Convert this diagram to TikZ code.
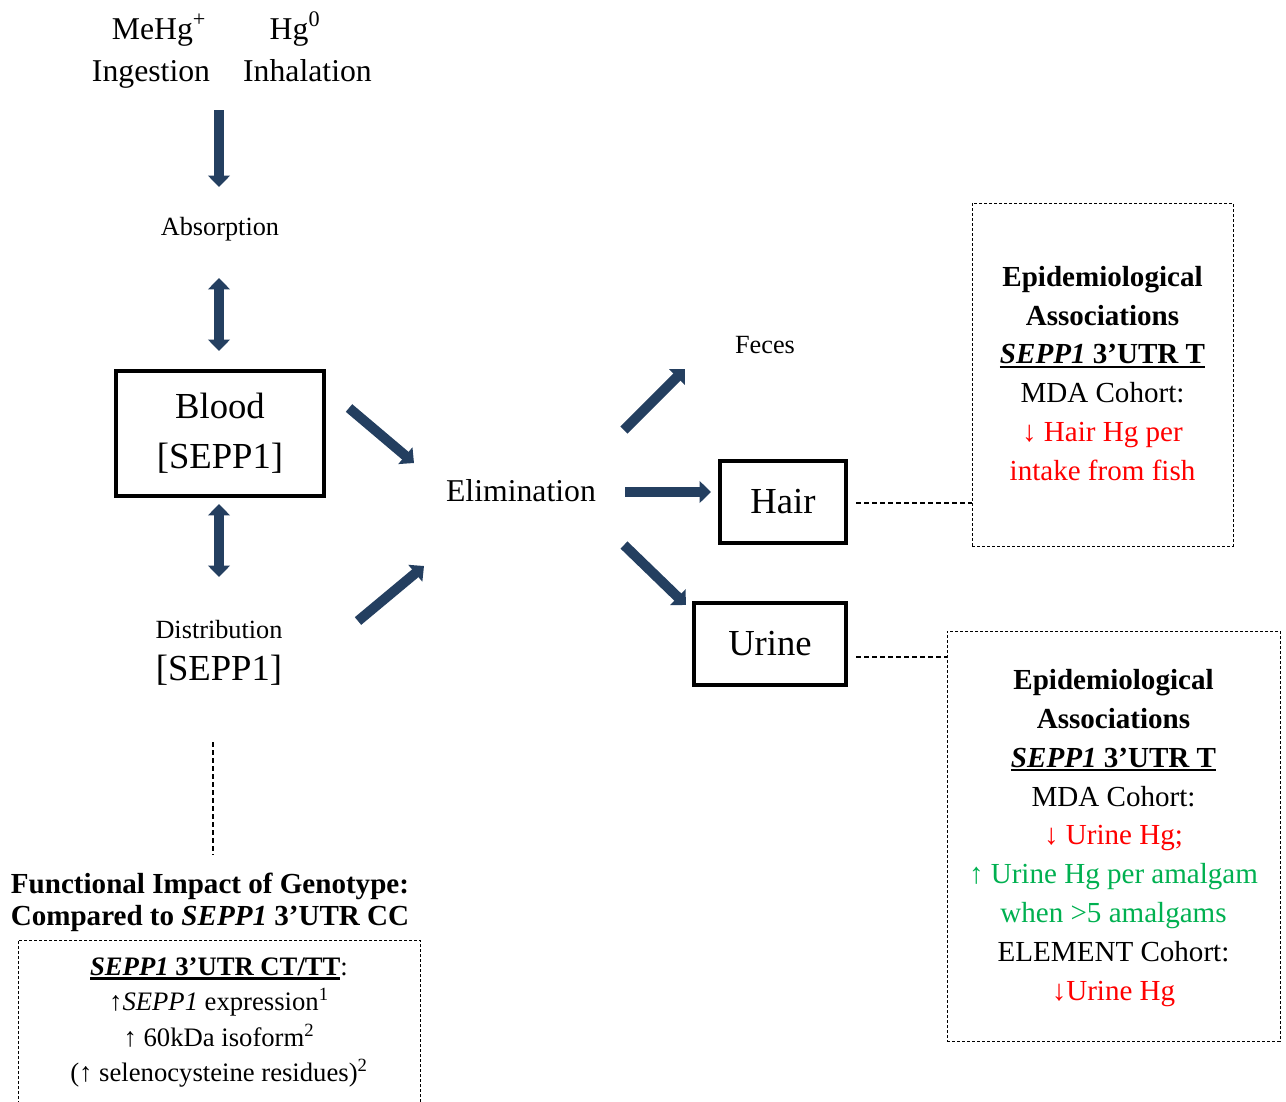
\documentclass[tikz,border=0pt]{standalone}
\usepackage{fontspec}
\setmainfont{Liberation Serif}
\usetikzlibrary{arrows.meta}
\definecolor{navy}{HTML}{243F60}
\definecolor{hgred}{HTML}{FF0000}
\definecolor{hggreen}{HTML}{00B050}
\newcommand\fsIn{\fontsize{23.8pt}{28pt}\selectfont}
\newcommand\fsSm{\fontsize{19.7pt}{24pt}\selectfont}
\newcommand\fsBig{\fontsize{27.5pt}{37.5pt}\selectfont}
\newcommand\fsEpi{\fontsize{21.8pt}{29.2pt}\selectfont}
\newcommand\fsFun{\fontsize{21.8pt}{24pt}\selectfont}
\newcommand\fsBot{\fontsize{20pt}{26.5pt}\selectfont}
\newcommand\myul[1]{\setbox0\hbox{#1}\rlap{\rule[-3pt]{\wd0}{1.6pt}}\box0}
\tikzset{
  txt/.style={inner sep=0pt, align=center},
  solidbox/.style={draw=black, line width=3pt, inner sep=0pt, align=center},
  dashbox/.style={draw=black, line width=0.75pt, dash pattern=on 2.25pt off 1.5pt, inner sep=0pt, align=center},
  dashlink/.style={draw=black, line width=0.9pt, dash pattern=on 3.75pt off 2.25pt},
  fatarrow/.style={draw=navy, line width=7.5pt, -{Triangle[width=16pt,length=8.5pt]}},
  fatdouble/.style={draw=navy, line width=7.5pt, {Triangle[width=16pt,length=8.5pt]}-{Triangle[width=16pt,length=8.5pt]}},
}
\begin{document}
\begin{tikzpicture}[x=0.75pt,y=-0.75pt]
\useasboundingbox (0,0) rectangle (1286,1101);

% top labels
\node[txt, anchor=base, font=\fsIn] (mehg) at (159,39) {MeHg\textsuperscript{+}};
\node[txt, anchor=base, font=\fsIn] (hgz) at (295,39) {Hg\textsuperscript{0}};
\node[txt, anchor=base, font=\fsIn] (ingest) at (151,81) {Ingestion};
\node[txt, anchor=base, font=\fsIn] (inhal) at (307.5,81) {Inhalation};

\node[txt, font=\fsSm] (absorp) at (220,229.5) {Absorption};

\node[solidbox, font=\fsBig, minimum width=156pt, minimum height=93.75pt] (blood) at (220,433.5)
  {Blood\\{[SEPP1]}};

\node[txt, font=\fsSm] (distr) at (219,630) {Distribution};
\node[txt, font=\fsBig] (distrsepp) at (219,670) {[SEPP1]};

\node[txt, font=\fsIn] (elim) at (521,491) {Elimination};
\node[txt, font=\fsSm] (feces) at (765,345) {Feces};

\node[solidbox, font=\fsBig, minimum width=94.5pt, minimum height=61.5pt] (hair) at (783,502) {Hair};
\node[solidbox, font=\fsBig, minimum width=114pt, minimum height=61.5pt] (urine) at (770,644) {Urine};

% epidemiological boxes
\node[dashbox, font=\fsEpi, minimum width=195.75pt, minimum height=257.25pt] (epiA) at (1102.5,374.5) {};
\node[txt, font=\fsEpi] (epiAtext) at (1102.5,373.5)
  {\textbf{Epidemiological}\\
   \textbf{Associations}\\
   \myul{\textbf{\textit{SEPP1} 3’UTR T}}\\
   MDA Cohort:\\
   \textcolor{hgred}{↓ Hair Hg per}\\
   \textcolor{hgred}{intake from fish}};

\node[dashbox, font=\fsEpi, minimum width=249.75pt, minimum height=307.5pt] (epiB) at (1113.5,836) {};
\node[txt, font=\fsEpi] (epiBtext) at (1113.5,838)
  {\textbf{Epidemiological}\\
   \textbf{Associations}\\
   \myul{\textbf{\textit{SEPP1} 3’UTR T}}\\
   MDA Cohort:\\
   \textcolor{hgred}{↓ Urine Hg;}\\
   \textcolor{hggreen}{↑ Urine Hg per amalgam}\\
   \textcolor{hggreen}{when >5 amalgams}\\
   ELEMENT Cohort:\\
   \textcolor{hgred}{↓Urine Hg}};

% functional impact
\node[txt, font=\fsFun] (funtitle) at (210,902)
  {\textbf{Functional Impact of Genotype:}\\
   \textbf{Compared to \textit{SEPP1} 3’UTR CC}};
\node[dashbox, minimum width=301.5pt, minimum height=135pt] (funbox) at (219,1030) {};
\node[txt, font=\fsBot] (funtext) at (219,1022.5)
  {\myul{\textbf{\textit{SEPP1} 3’UTR CT/TT}}:\\
   ↑\textit{SEPP1} expression\textsuperscript{1}\\
   ↑ 60kDa isoform\textsuperscript{2}\\
   (↑ selenocysteine residues)\textsuperscript{2}};

% arrow end points
\coordinate (a1s) at (219,110); \coordinate (a1e) at (219,187);
\coordinate (a2s) at (219,278); \coordinate (a2e) at (219,351);
\coordinate (a3s) at (219,504); \coordinate (a3e) at (219,577);
\coordinate (a4s) at (349,408); \coordinate (a4e) at (414,463);
\coordinate (a5s) at (358,621); \coordinate (a5e) at (424,566);
\coordinate (a6s) at (624,430); \coordinate (a6e) at (685,369);
\coordinate (a7s) at (625,492); \coordinate (a7e) at (711,492);
\coordinate (a8s) at (624,545); \coordinate (a8e) at (686,605);

\draw[fatarrow] (a1s) -- (a1e);
\draw[fatdouble] (a2s) -- (a2e);
\draw[fatdouble] (a3s) -- (a3e);
\draw[fatarrow] (a4s) -- (a4e);
\draw[fatarrow] (a5s) -- (a5e);
\draw[fatarrow] (a6s) -- (a6e);
\draw[fatarrow] (a7s) -- (a7e);
\draw[fatarrow] (a8s) -- (a8e);

% dashed links
\coordinate (hl) at (856,503);
\coordinate (ul) at (856,657);
\draw[dashlink] (hl) -- (hl -| epiA.west);
\draw[dashlink] (ul) -- (ul -| epiB.west);
\coordinate (v1) at (213,742);
\coordinate (v2) at (213,855);
\draw[dashlink] (v1) -- (v2);
\end{tikzpicture}
\end{document}
